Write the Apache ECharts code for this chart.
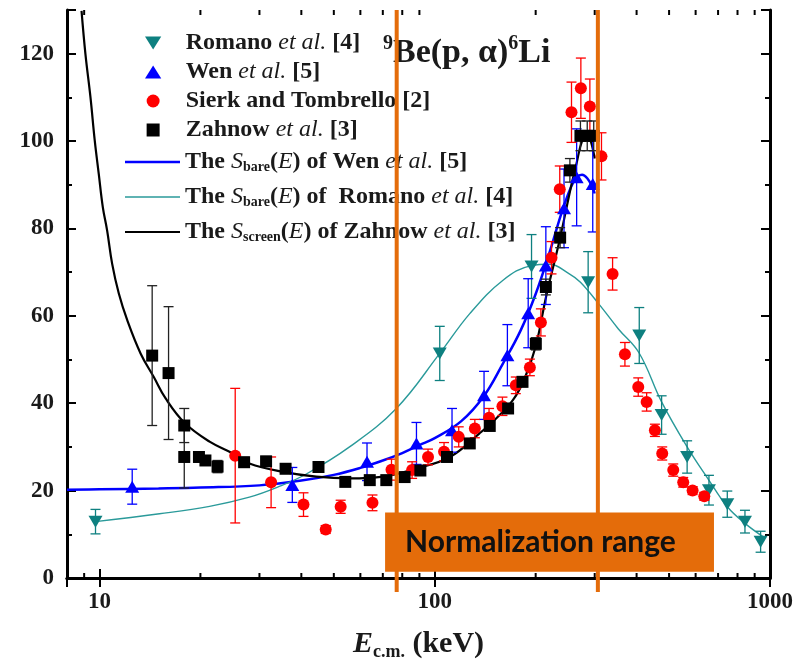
<!DOCTYPE html>
<html>
<head>
<meta charset="utf-8">
<script src="https://cdn.jsdelivr.net/npm/echarts@6/dist/echarts.min.js"></script>
<style>
  html, body { margin: 0; padding: 0; background: #fff; }
  #chart { width: 805px; height: 661px; }
</style>
</head>
<body>
<div id="chart"></div>
<script>
// ---- data ----
// Romano et al. [4]
const ROMANO_E = [9.73, 103.5, 194.4, 286.8, 407.4, 475, 566, 657.5, 745.8, 842, 937.5];
const ROMANO_S = [12.9, 51.4, 71.3, 67.7, 55.5, 37.3, 27.7, 20.1, 16.9, 12.9, 8.3];
const ROMANO_ERR = [2.8, 6.2, 7.3, 7.0, 6.4, 4.4, 3.7, 3.4, 3.0, 2.6, 2.4];
// Wen et al. [5]
const WEN_E = [12.52, 37.6, 62.8, 88.2, 112.6, 140.3, 164.7, 190, 214.5, 243, 265, 296];
const WEN_S = [20.9, 21.3, 26.6, 30.8, 33.8, 41.8, 51.0, 60.6, 71.5, 84.6, 91.7, 90.2];
const WEN_ERR = [4.0, 4.0, 4.3, 4.8, 5.0, 5.5, 7.0, 7.9, 8.9, 9.0, 11.1, 11.0];
// Sierk and Tombrello [2]
const SIERK_E = [25.4, 32.5, 40.6, 47.3, 52.4, 65.2, 74.3, 85.6, 95.5, 106.6, 117.9, 131.7, 145.2, 159.2, 174.5, 192.2, 207.3, 223, 236, 255.8, 272.8, 290.2, 314.3, 339.2, 369.2, 404.6, 428.6, 453.6, 477, 514.5, 551, 587.6, 636.8];
const SIERK_S = [28.0, 21.9, 16.8, 11.1, 16.3, 17.2, 24.8, 24.7, 27.7, 28.9, 32.3, 34.2, 36.7, 39.3, 44.1, 48.2, 58.5, 73.3, 89.0, 106.6, 112.1, 107.9, 96.5, 69.6, 51.2, 43.7, 40.3, 33.8, 28.5, 24.7, 21.9, 20.0, 18.7];
const SIERK_ERR = [15.4, 5.8, 2.7, 0.9, 1.5, 1.8, 2.4, 1.9, 1.8, 2.1, 2.3, 2.1, 2.1, 2.1, 1.9, 1.9, 3.1, 3.7, 5.3, 6.9, 6.9, 6.3, 5.4, 3.7, 2.7, 2.1, 2.1, 1.4, 1.5, 1.4, 1.1, 0.9, 0.9];
// Zahnow et al. [3]
const ZAHNOW_E = [14.36, 16.07, 17.9, 17.9, 19.8, 20.7, 22.5, 27.0, 31.4, 35.9, 45.0, 54.1, 64.0, 71.7, 81.3, 90.6, 108.8, 127.2, 145.9, 165.5, 182.7, 200.2, 214.5, 236.6, 253, 272, 285, 298];
const ZAHNOW_S = [50.9, 46.9, 34.9, 27.7, 27.7, 26.9, 25.5, 26.5, 26.7, 25.0, 25.4, 22.0, 22.4, 22.4, 23.1, 24.6, 27.7, 30.8, 34.8, 38.8, 44.9, 53.6, 66.6, 77.9, 93.3, 101.2, 101.2, 101.2];
const ZAHNOW_ERR = [16.0, 15.2, 3.9, 7.1, 1.1, 1.1, 1.4, 1.1, 1.1, 0.9, 0.9, 0.9, 0.9, 0.9, 0.9, 0.9, 0.9, 0.9, 0.9, 0.9, 1.1, 1.4, 1.8, 2.3, 2.7, 3.4, 3.4, 3.4];

// fitted curves
const BARE_WEN_E = [8, 10, 15, 20, 30, 40, 50, 60, 70, 80, 90, 100, 120, 140, 160, 180, 200, 220, 240, 255, 265, 275, 285, 295, 300];
const BARE_WEN_S = [20.2, 20.3, 20.5, 20.7, 21.2, 22.3, 23.6, 25.2, 26.9, 28.6, 30.4, 32.0, 35.9, 41.6, 49.2, 56.5, 65.0, 74.5, 84.0, 89.5, 91.7, 92.3, 91.5, 89.5, 88.0];
const BARE_ROMANO_E = [9.73, 15.1, 21.3, 28, 34, 41.4, 55.7, 76.8, 103.5, 127.2, 159.5, 194.4, 220, 250, 272, 311, 353, 407, 475, 566, 657, 746, 842, 960];
const BARE_ROMANO_S = [12.9, 14.7, 16.4, 18.5, 20.8, 23.8, 30.0, 38.8, 51.4, 60.5, 68.1, 71.5, 71.8, 69.8, 67.7, 62.4, 57.0, 51.5, 40.3, 30.0, 22.4, 16.3, 12.5, 9.3];
const SCREEN_E = [8.84, 9.08, 9.40, 9.68, 9.95, 10.23, 10.54, 10.91, 11.42, 12.1, 13.26, 14.52, 15.75, 18, 21.3, 25, 28, 35.3, 44.3, 55.7, 70.2, 88.3, 111, 136, 150, 171, 185, 200, 215, 236, 254, 265, 275, 285, 292, 300];
const SCREEN_S = [129.8, 119.9, 110.0, 100.1, 92.5, 84.9, 79.5, 71.9, 65.1, 59.0, 51.4, 46.0, 41.1, 35.4, 31.2, 28.5, 26.2, 24.3, 23.2, 22.8, 23.2, 25.1, 27.7, 33.1, 36.0, 40.7, 45.5, 53.0, 64.5, 77.5, 89.0, 95.0, 100.0, 101.5, 100.0, 96.0];

// normalization range markers (keV) and box [E left, E right, S bottom, S top]
const NORM_LIMITS = [77.0, 306.6];
const NORM_BOX = [71.1, 680.6, 1.45, 15.0];
// minor ticks on the log axis
const MINOR_X = [9, 20, 30, 40, 50, 60, 70, 80, 90, 200, 300, 400, 500, 600, 700, 800, 900];

const SERIF = '"Liberation Serif", "Times New Roman", serif';
const ORANGE = '#E46C0A';
const TEAL = '#0E8080';
const TEAL_LINE = '#2A9A9A';
const BLUE = '#0000FF';
const RED = '#FF0000';

const DOWN_TRI = "path://M0,0L2,0L1,1.6Z";
const UP_TRI = "path://M1,0L2,1.6L0,1.6Z";
const SQUARE = "path://M0,0L1,0L1,1L0,1Z";

const NAMES = {
  romano: 'Romano et al. [4]',
  wen: 'Wen et al. [5]',
  sierk: 'Sierk and Tombrello [2]',
  zahnow: 'Zahnow et al. [3]',
  bareWen: 'The Sbare(E) of Wen et al. [5]',
  bareRomano: 'The Sbare(E) of Romano et al. [4]',
  screen: 'The Sscreen(E) of Zahnow et al. [3]'
};
const LEGEND_RICH = {};
LEGEND_RICH[NAMES.romano] = '{b|Romano }{i|et al.}{b| [4]}';
LEGEND_RICH[NAMES.wen] = '{b|Wen }{i|et al.}{b| [5]}';
LEGEND_RICH[NAMES.sierk] = '{b|Sierk and Tombrello [2]}';
LEGEND_RICH[NAMES.zahnow] = '{b|Zahnow }{i|et al.}{b| [3]}';
LEGEND_RICH[NAMES.bareWen] = '{b|The }{i|S}{sub|bare}{b|(}{i|E}{b|) of Wen }{i|et al.}{b| [5]}';
LEGEND_RICH[NAMES.bareRomano] = '{b|The }{i|S}{sub|bare}{b|(}{i|E}{b|) of  Romano }{i|et al.}{b| [4]}';
LEGEND_RICH[NAMES.screen] = '{b|The }{i|S}{sub|screen}{b|(}{i|E}{b|) of Zahnow }{i|et al.}{b| [3]}';

function zip(xs, ys) {
  return xs.map((x, i) => [x, ys[i]]);
}
function errData(xs, ys, es) {
  return xs.map((x, i) => [x, ys[i] - es[i], ys[i] + es[i]]);
}

function errorSeries(xs, ys, es, color) {
  return {
    type: "custom",
    z: 4,
    silent: true,
    data: errData(xs, ys, es),
    encode: { x: 0, y: [1, 2] },
    renderItem(params, api) {
      const e = api.value(0);
      const lo = api.coord([e, api.value(1)]);
      const hi = api.coord([e, api.value(2)]);
      const cap = 5;
      const style = { stroke: color, lineWidth: 1.3 };
      return {
        type: "group",
        children: [
          { type: "line", shape: { x1: lo[0], y1: lo[1], x2: hi[0], y2: hi[1] }, style },
          { type: "line", shape: { x1: lo[0] - cap, y1: lo[1], x2: lo[0] + cap, y2: lo[1] }, style },
          { type: "line", shape: { x1: hi[0] - cap, y1: hi[1], x2: hi[0] + cap, y2: hi[1] }, style }
        ]
      };
    }
  };
}

function valueAxis(position, showLabel) {
  return {
    type: "value",
    position: position,
    min: 0,
    max: 130,
    interval: 20,
    axisLine: { show: true, lineStyle: { color: "#000", width: 3 } },
    axisTick: { show: true, inside: true, length: 9, lineStyle: { color: "#000", width: 2 } },
    minorTick: { show: true, splitNumber: 2, length: 5, lineStyle: { color: "#000", width: 2 } },
    splitLine: { show: false },
    axisLabel: {
      show: showLabel,
      margin: 13,
      fontFamily: SERIF,
      fontWeight: "bold",
      fontSize: 23,
      color: "#1a1a1a",
      formatter: v => (v % 20 === 0 ? String(v) : "")
    }
  };
}

function logAxis(position, showLabel) {
  return {
    type: "log",
    logBase: 10,
    position: position,
    min: 8,
    max: 1000,
    axisLine: { show: true, lineStyle: { color: "#000", width: 3 } },
    axisTick: { show: true, inside: true, length: 9, lineStyle: { color: "#000", width: 2 } },
    splitLine: { show: false },
    axisLabel: {
      show: showLabel,
      margin: 13,
      fontFamily: SERIF,
      fontWeight: "bold",
      fontSize: 23,
      color: "#1a1a1a",
      formatter: v => {
        const l = Math.log10(v);
        return Math.abs(l - Math.round(l)) < 1e-6 ? String(Math.round(v)) : "";
      }
    }
  };
}

const chart = echarts.init(document.getElementById("chart"), null, { renderer: "canvas" });

const xBottom = logAxis("bottom", true);
xBottom.name = "{e|E}{s|c.m.}{n| (keV)}";
xBottom.nameLocation = "middle";
xBottom.nameGap = 49;
xBottom.nameTextStyle = {
  rich: {
    e: { fontFamily: SERIF, fontStyle: "italic", fontWeight: "bold", fontSize: 30, lineHeight: 34, color: "#1a1a1a" },
    s: { fontFamily: SERIF, fontWeight: "bold", fontSize: 18, lineHeight: 18, verticalAlign: "bottom", color: "#1a1a1a" },
    n: { fontFamily: SERIF, fontWeight: "bold", fontSize: 30, lineHeight: 34, color: "#1a1a1a" }
  }
};

const legendRich = {
  b: { fontFamily: SERIF, fontWeight: "bold", fontSize: 24, lineHeight: 24, color: "#1a1a1a" },
  i: { fontFamily: SERIF, fontStyle: "italic", fontSize: 24, lineHeight: 24, color: "#1a1a1a" },
  sub: { fontFamily: SERIF, fontWeight: "bold", fontSize: 14, lineHeight: 14, verticalAlign: "bottom", color: "#1a1a1a" }
};

const option = {
  animation: false,
  backgroundColor: "#fff",
  title: {
    text: "{sup|9}{b|Be(p, α)}{sup|6}{b|Li}",
    left: 378,
    top: 29,
    textStyle: {
      rich: {
        b: { fontFamily: SERIF, fontWeight: "bold", fontSize: 34, lineHeight: 38, color: "#1a1a1a" },
        sup: { fontFamily: SERIF, fontSize: 20, lineHeight: 20, verticalAlign: "top", color: "#1a1a1a" }
      }
    }
  },
  legend: [
    {
      orient: "vertical",
      left: 140,
      top: 26,
      itemWidth: 55,
      itemHeight: 13,
      itemGap: 5,
      selectedMode: false,
      data: [
        { name: NAMES.romano, icon: DOWN_TRI },
        { name: NAMES.wen, icon: UP_TRI },
        { name: NAMES.sierk, icon: "circle" },
        { name: NAMES.zahnow, icon: SQUARE }
      ],
      formatter: name => LEGEND_RICH[name],
      textStyle: { rich: legendRich }
    },
    {
      orient: "vertical",
      left: 120,
      top: 145,
      itemWidth: 55,
      itemHeight: 13,
      itemGap: 11,
      selectedMode: false,
      data: [
        { name: NAMES.bareWen, icon: "path://M0,0L22,0L22,1L0,1Z" },
        { name: NAMES.bareRomano, icon: "path://M0,0L40,0L40,1L0,1Z" },
        { name: NAMES.screen, icon: "path://M0,0L25,0L25,1L0,1Z" }
      ],
      formatter: name => LEGEND_RICH[name],
      textStyle: { rich: legendRich }
    }
  ],
  grid: { left: 67, right: 35, top: 10, bottom: 83, containLabel: false, outerBoundsMode: "none" },
  xAxis: [xBottom, logAxis("top", false)],
  yAxis: [valueAxis("left", true), valueAxis("right", false)],
  series: [
    {
      name: NAMES.bareWen,
      type: "line",
      z: 3,
      smooth: 0.4,
      symbol: "none",
      lineStyle: { color: BLUE, width: 2.5 },
      itemStyle: { color: BLUE },
      data: zip(BARE_WEN_E, BARE_WEN_S)
    },
    {
      name: NAMES.bareRomano,
      type: "line",
      z: 3,
      smooth: 0.4,
      symbol: "none",
      lineStyle: { color: TEAL_LINE, width: 1.4 },
      itemStyle: { color: TEAL_LINE },
      data: zip(BARE_ROMANO_E, BARE_ROMANO_S)
    },
    {
      name: NAMES.screen,
      type: "line",
      z: 3,
      smooth: 0.4,
      symbol: "none",
      lineStyle: { color: "#000", width: 2.2 },
      itemStyle: { color: "#000" },
      data: zip(SCREEN_E, SCREEN_S)
    },
    errorSeries(ROMANO_E, ROMANO_S, ROMANO_ERR, TEAL),
    errorSeries(WEN_E, WEN_S, WEN_ERR, BLUE),
    errorSeries(SIERK_E, SIERK_S, SIERK_ERR, RED),
    errorSeries(ZAHNOW_E, ZAHNOW_S, ZAHNOW_ERR, "#222"),
    {
      name: NAMES.romano,
      type: "scatter",
      z: 5,
      symbol: DOWN_TRI,
      symbolSize: [14, 12],
      itemStyle: { color: TEAL, opacity: 1 },
      data: zip(ROMANO_E, ROMANO_S)
    },
    {
      name: NAMES.wen,
      type: "scatter",
      z: 5,
      symbol: UP_TRI,
      symbolSize: [14, 12],
      itemStyle: { color: BLUE, opacity: 1 },
      data: zip(WEN_E, WEN_S)
    },
    {
      name: NAMES.sierk,
      type: "scatter",
      z: 5,
      symbol: "circle",
      symbolSize: 12,
      itemStyle: { color: RED, opacity: 1 },
      data: zip(SIERK_E, SIERK_S)
    },
    {
      name: NAMES.zahnow,
      type: "scatter",
      z: 5,
      symbol: SQUARE,
      symbolSize: 12,
      itemStyle: { color: "#000", opacity: 1 },
      data: zip(ZAHNOW_E, ZAHNOW_S)
    },
    {
      // minor ticks of the log axis, bottom and top
      type: "custom",
      silent: true,
      z: 6,
      data: MINOR_X.map(e => [e, 0]),
      renderItem(params, api) {
        const x = api.coord([api.value(0), 0])[0];
        const cs = params.coordSys;
        const style = { stroke: "#000", lineWidth: 2 };
        return {
          type: "group",
          children: [
            { type: "line", shape: { x1: x, y1: cs.y + cs.height, x2: x, y2: cs.y + cs.height - 5 }, style },
            { type: "line", shape: { x1: x, y1: cs.y, x2: x, y2: cs.y + 5 }, style }
          ]
        };
      }
    },
    {
      // normalization range limits
      type: "custom",
      silent: true,
      z: 10,
      data: NORM_LIMITS.map(e => [e, 0]),
      renderItem(params, api) {
        const x = api.coord([api.value(0), 0])[0];
        const cs = params.coordSys;
        return {
          type: "line",
          shape: { x1: x, y1: cs.y, x2: x, y2: cs.y + cs.height + 14 },
          style: { stroke: ORANGE, lineWidth: 4 }
        };
      }
    },
    {
      type: "custom",
      silent: true,
      z: 11,
      data: [NORM_BOX],
      encode: { x: [0, 1], y: [2, 3] },
      renderItem(params, api) {
        const tl = api.coord([api.value(0), api.value(3)]);
        const br = api.coord([api.value(1), api.value(2)]);
        return {
          type: "group",
          children: [
            {
              type: "rect",
              shape: { x: tl[0], y: tl[1], width: br[0] - tl[0], height: br[1] - tl[1] },
              style: { fill: ORANGE }
            },
            {
              type: "text",
              x: tl[0] + 20,
              y: (tl[1] + br[1]) / 2,
              style: {
                text: "Normalization range",
                fill: "#111",
                font: 'bold 30px Lato, "Open Sans", sans-serif',
                align: "left",
                verticalAlign: "middle"
              }
            }
          ]
        };
      }
    }
  ]
};

chart.setOption(option);
window.addEventListener("resize", () => chart.resize(), false);
</script>
</body>
</html>
